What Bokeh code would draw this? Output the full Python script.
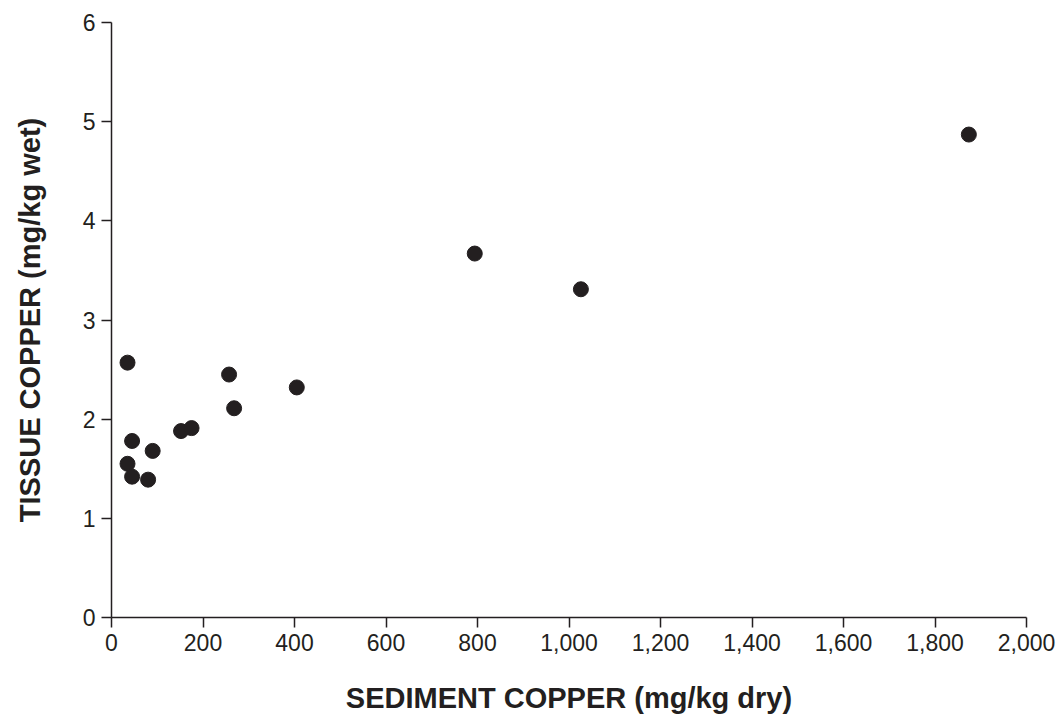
from bokeh.plotting import figure
from bokeh.models import Range1d, FixedTicker, NumeralTickFormatter, ColumnDataSource
from bokeh.embed import file_html
from bokeh.resources import INLINE

sediment_cu = [35, 35, 45, 45, 80, 90, 152, 175, 257, 268, 405, 794, 1026, 1874]
tissue_cu = [2.57, 1.55, 1.78, 1.42, 1.39, 1.68, 1.88, 1.91, 2.45, 2.11, 2.32, 3.67, 3.31, 4.87]
x_ticks = list(range(0, 2001, 200))
y_ticks = [0, 1, 2, 3, 4, 5, 6]

FONT = "Liberation Sans"
INK = "#231f20"

p = figure(width=1062, height=721, output_backend="svg", toolbar_location=None,
           x_range=Range1d(0, 2000), y_range=Range1d(0, 6),
           min_border_left=111, min_border_right=36, min_border_top=22, min_border_bottom=104)
p.outline_line_color = None
p.grid.visible = False
p.background_fill_color = "white"
p.border_fill_color = "white"

src = ColumnDataSource(dict(x=sediment_cu, y=tissue_cu))
p.scatter("x", "y", source=src, size=15, fill_color=INK, line_color=INK)

p.xaxis.ticker = FixedTicker(ticks=x_ticks)
p.yaxis.ticker = FixedTicker(ticks=y_ticks)
p.xaxis.formatter = NumeralTickFormatter(format="0,0")
p.xaxis.axis_label = "SEDIMENT COPPER (mg/kg dry)"
p.yaxis.axis_label = "TISSUE COPPER (mg/kg wet)"

for ax in (p.xaxis, p.yaxis):
    ax.axis_line_color = INK
    ax.axis_line_width = 1.5
    ax.major_tick_line_color = INK
    ax.major_tick_line_width = 1.5
    ax.major_tick_out = 10
    ax.major_tick_in = 0
    ax.minor_tick_line_color = None
    ax.major_label_text_font = FONT
    ax.major_label_text_font_size = "23px"
    ax.major_label_text_color = INK
    ax.axis_label_text_font = FONT
    ax.axis_label_text_font_size = "29px"
    ax.axis_label_text_font_style = "bold"
    ax.axis_label_text_color = INK

p.xaxis.major_label_standoff = 6
p.yaxis.major_label_standoff = 6
p.xaxis.axis_label_standoff = 28
p.yaxis.axis_label_standoff = 34

open("out.html", "w").write(file_html(p, INLINE))
